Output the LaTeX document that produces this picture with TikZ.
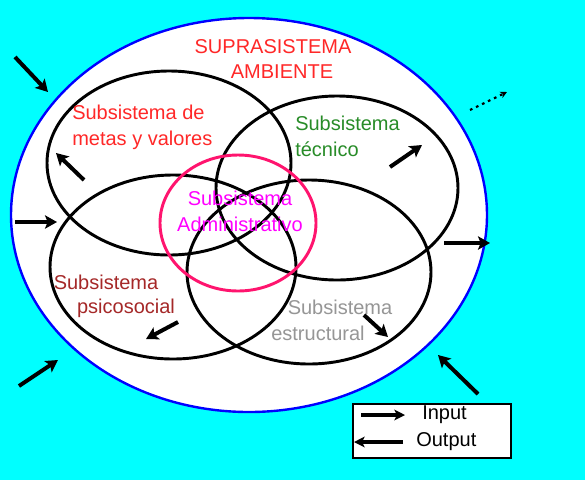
\documentclass[tikz,border=0pt]{standalone}
\usepackage{fontspec}
\setmainfont{Liberation Sans}
\usetikzlibrary{shapes.geometric,arrows.meta}
\definecolor{bgcyan}{RGB}{0,255,255}
\definecolor{outerblue}{RGB}{0,0,255}
\definecolor{adminpink}{RGB}{255,20,110}
\definecolor{txtred}{RGB}{255,40,40}
\definecolor{txtgreen}{RGB}{40,140,40}
\definecolor{txtmag}{RGB}{255,0,255}
\definecolor{txtdred}{RGB}{165,40,40}
\definecolor{txtgray}{RGB}{150,150,150}
\begin{document}
\begin{tikzpicture}[x=0.75pt,y=-0.75pt,
  sub/.style={ellipse,draw=black,line width=2.2pt,inner sep=0pt},
  lbl/.style={inner sep=0pt,font=\fontsize{15}{19.5}\selectfont},
  bigarrow/.style={line width=3pt,-{Stealth[length=9pt,width=10pt,inset=2pt]}},
  legarrow/.style={line width=2.4pt,-{Stealth[length=8pt,width=8pt,inset=2pt]}}]
\useasboundingbox (0,0) rectangle (585,480);
\fill[bgcyan] (0,0) rectangle (585,480);
% outer suprasystem
\node[ellipse,draw=outerblue,fill=white,line width=1.8pt,inner sep=0pt,minimum width=357pt,minimum height=295.5pt] (outer) at (249,215) {};
% subsystems
\node[sub,minimum width=183pt,minimum height=138pt] (metas) at (169,163) {};
\node[sub,minimum width=181.5pt,minimum height=138pt] (tecnico) at (337,188) {};
\node[sub,minimum width=184.5pt,minimum height=138pt] (psico) at (173,267) {};
\node[sub,minimum width=183pt,minimum height=138pt] (estruct) at (309,272) {};
\node[ellipse,draw=adminpink,line width=2.2pt,inner sep=0pt,minimum width=117pt,minimum height=102pt] (admin) at (238,223) {};
% labels
\node[lbl,text=txtred] (supra1) at (273,47) {SUPRASISTEMA};
\node[lbl,text=txtred] (supra2) at (282,72) {AMBIENTE};
\node[lbl,text=txtred,align=left,anchor=west] (tmetas) at (72,127.5) {Subsistema de\\metas y valores};
\node[lbl,text=txtgreen,align=left,anchor=west] (ttec) at (295,136.5) {Subsistema\\técnico};
\node[lbl,text=txtmag,align=center] (tadmin) at (240,211) {Subsistema\\Administrativo};
\node[lbl,text=txtdred] (tpsico1) at (106,282) {Subsistema};
\node[lbl,text=txtdred] (tpsico2) at (126,308) {psicosocial};
\node[lbl,text=txtgray] (test1) at (340,307) {Subsistema};
\node[lbl,text=txtgray] (test2) at (318,333) {estructural};
% arrow coordinates
\coordinate (a1s) at (15,57);   \coordinate (a1e) at (48,92);
\coordinate (a2s) at (15,222);  \coordinate (a2e) at (57,222);
\coordinate (a3s) at (19,386);  \coordinate (a3e) at (58,360);
\coordinate (a4s) at (478,394); \coordinate (a4e) at (438,355);
\coordinate (a5s) at (444,243); \coordinate (a5e) at (490,243);
\coordinate (a6s) at (84,180);  \coordinate (a6e) at (56,153);
\coordinate (a7s) at (390,167); \coordinate (a7e) at (422,145);
\coordinate (a8s) at (178,322); \coordinate (a8e) at (146,339);
\coordinate (a9s) at (364,315); \coordinate (a9e) at (388,337);
\coordinate (a10s) at (470,110); \coordinate (a10e) at (507,92);
\draw[bigarrow] (a1s) -- (a1e);
\draw[bigarrow] (a2s) -- (a2e);
\draw[bigarrow] (a3s) -- (a3e);
\draw[bigarrow] (a4s) -- (a4e);
\draw[bigarrow] (a5s) -- (a5e);
\draw[bigarrow] (a6s) -- (a6e);
\draw[bigarrow] (a7s) -- (a7e);
\draw[bigarrow] (a8s) -- (a8e);
\draw[bigarrow] (a9s) -- (a9e);
\draw[line width=1.6pt,dash pattern=on 2pt off 3pt,-{Stealth[length=5pt,width=5pt]}] (a10s) -- (a10e);
% legend
\node[draw=black,fill=white,line width=1.2pt,inner sep=0pt,minimum width=118.5pt,minimum height=40.5pt] (legend) at (432,431) {};
\node[lbl,anchor=west] (tin) at (422,415) {Input};
\node[lbl,anchor=west] (tout) at (416,442) {Output};
\coordinate (l1s) at (361,415); \coordinate (l1e) at (405,415);
\coordinate (l2s) at (403,442); \coordinate (l2e) at (354,442);
\draw[legarrow] (l1s) -- (l1e);
\draw[legarrow] (l2s) -- (l2e);
\end{tikzpicture}
\end{document}
